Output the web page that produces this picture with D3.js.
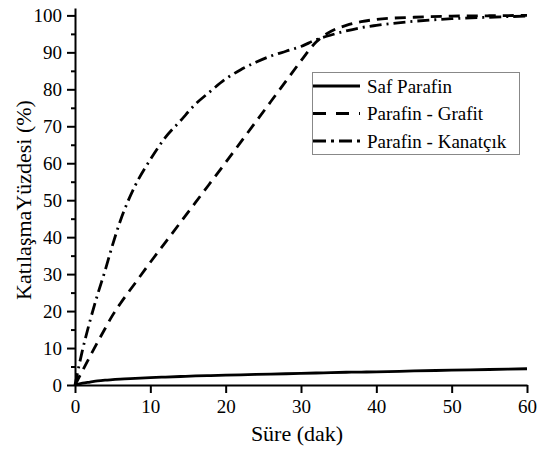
<!DOCTYPE html>
<html>
<head>
<meta charset="utf-8">
<script src="https://cdn.jsdelivr.net/npm/d3@7"></script>
</head>
<body style="margin:0">
<svg id="chart" width="539" height="450"></svg>
<script>
const minutes = [0, 1, 2, 3, 4, 5, 6, 8, 10, 12, 14, 16, 18, 20, 22, 24, 26, 28, 30, 32, 34, 36, 38, 40, 45, 50, 55, 60];
const safParafin = [0, 0.5, 0.8, 1.1, 1.3, 1.45, 1.6, 1.8, 2.0, 2.15, 2.3, 2.45, 2.55, 2.65, 2.75, 2.85, 2.95, 3.05, 3.15, 3.25, 3.35, 3.45, 3.5, 3.55, 3.8, 4.0, 4.2, 4.4];
const parafinGrafit = [0, 3.9, 7.8, 11.6, 15.3, 18.9, 22.0, 27.6, 33.2, 38.6, 44, 49.4, 54.8, 60.2, 65.7, 71.2, 76.7, 82.2, 87.7, 92.8, 95.7, 97.3, 98.3, 98.9, 99.5, 99.8, 99.9, 100];
const parafinKanatcik = [0, 9.5, 17.4, 24.5, 31, 38, 44.3, 54, 61, 67, 71.5, 76, 79.5, 82.8, 85.3, 87.3, 89, 90.3, 91.6, 93.4, 94.7, 95.8, 96.7, 97.3, 98.4, 99.1, 99.5, 99.8];
const seriesNames = ['Saf Parafin', 'Parafin - Grafit', 'Parafin - Kanatçık'];
const xTicks = [0, 10, 20, 30, 40, 50, 60];
const yTicks = [0, 10, 20, 30, 40, 50, 60, 70, 80, 90, 100];
const yMinorTicks = [5, 15, 25, 35, 45, 55, 65, 75, 85, 95];

const dashes = ['none', '11,7', '12,5,2,5'];
const fontName = 'Liberation Serif';

const svg = d3.select('#chart');

const x = d3.scaleLinear().domain([0, 60]).range([75, 527]);
const y = d3.scaleLinear().domain([0, 102]).range([385, 8]);

function styleAxis(g) {
    g.attr('font-family', fontName).attr('font-size', 19);
    g.selectAll('path, line').attr('stroke', '#000').attr('stroke-width', 2);
    g.selectAll('text').attr('fill', '#000').style('font-family', fontName);
}

// y axis minor ticks first, then major
svg.append('g')
    .attr('transform', 'translate(75,0)')
    .call(d3.axisLeft(y).tickValues(yMinorTicks).tickSize(4).tickFormat(''))
    .call(g => g.select('.domain').remove())
    .call(styleAxis);

svg.append('g')
    .attr('transform', 'translate(75,0)')
    .call(d3.axisLeft(y).tickValues(yTicks).tickSize(8).tickPadding(5).tickSizeOuter(0))
    .call(styleAxis);

svg.append('g')
    .attr('transform', 'translate(0,385)')
    .call(d3.axisBottom(x).tickValues(xTicks).tickSize(8).tickPadding(7).tickSizeOuter(0))
    .call(styleAxis);

const series = [safParafin, parafinGrafit, parafinKanatcik];

const line = d3.line()
    .x((d, i) => x(minutes[i]))
    .y(d => y(d))
    .curve(d3.curveMonotoneX);

series.forEach((vals, k) => {
    svg.append('path')
        .datum(vals)
        .attr('fill', 'none')
        .attr('stroke', '#000')
        .attr('stroke-width', 2.8)
        .attr('stroke-dasharray', dashes[k])
        .attr('d', line);
});

// axis titles
svg.append('text')
    .attr('x', 297)
    .attr('y', 441)
    .attr('text-anchor', 'middle')
    .style('font-family', fontName)
    .attr('font-size', 22)
    .text('Süre (dak)');

svg.append('text')
    .attr('transform', 'translate(31,200) rotate(-90)')
    .attr('text-anchor', 'middle')
    .style('font-family', fontName)
    .attr('font-size', 22)
    .text('KatılaşmaYüzdesi (%)');

// legend
const legend = svg.append('g');
legend.append('rect')
    .attr('x', 312.5).attr('y', 72.5)
    .attr('width', 207).attr('height', 82)
    .attr('fill', '#fff')
    .attr('stroke', '#888')
    .attr('stroke-width', 1);

seriesNames.forEach((name, k) => {
    const cy = 86 + k * 27.5;
    legend.append('line')
        .attr('x1', 313).attr('x2', 360)
        .attr('y1', cy).attr('y2', cy)
        .attr('stroke', '#000')
        .attr('stroke-width', 2.8)
        .attr('stroke-dasharray', k === 1 ? '13,10' : (k === 2 ? '13,5,3,5' : 'none'));
    legend.append('text')
        .attr('x', 367)
        .attr('y', cy + 6.5)
        .style('font-family', fontName)
        .attr('font-size', 19)
        .text(name);
});
</script>
</body>
</html>
